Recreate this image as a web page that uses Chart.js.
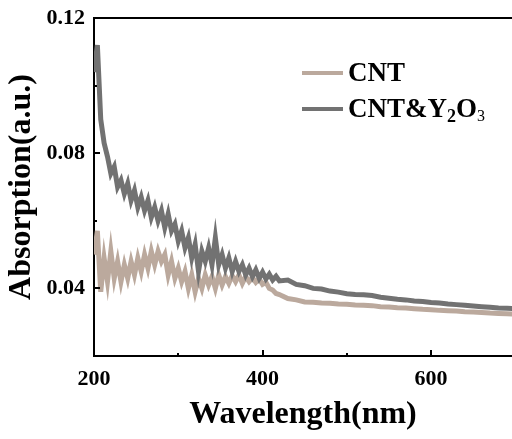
<!DOCTYPE html>
<html>
<head>
<meta charset="utf-8">
<script src="https://cdn.jsdelivr.net/npm/chart.js@4.4.0/dist/chart.umd.min.js"></script>
<style>
  html, body { margin: 0; padding: 0; background: #fff; }
  #c { display: block; }
</style>
</head>
<body>
<canvas id="c" width="512" height="439"></canvas>
<script>
// wavelength (nm)
const wavelengths = [
  200, 204, 208, 212, 216, 220, 224, 228, 232, 236, 240, 244, 248, 252, 256, 260,
  264, 268, 272, 276, 280, 284, 288, 292, 296, 300, 304, 308, 312, 316, 320, 324,
  328, 332, 336, 340, 344, 348, 352, 356, 360, 364, 368, 372, 376, 380, 384, 388,
  392, 396, 400, 404, 408, 412, 416, 420,
  430, 440, 450, 460, 470, 480, 490, 500, 510, 520, 530, 540, 550, 560, 570, 580,
  590, 600, 610, 620, 630, 640, 650, 660, 670, 680, 690, 700
];

const cntValues = [
  0.0500, 0.0570, 0.0390, 0.0490, 0.0420, 0.0510, 0.0430, 0.0480, 0.0420, 0.0470, 0.0430, 0.0480, 0.0440, 0.0490, 0.0450, 0.0500,
  0.0460, 0.0510, 0.0470, 0.0510, 0.0480, 0.0500, 0.0440, 0.0480, 0.0430, 0.0460, 0.0420, 0.0450, 0.0400, 0.0440, 0.0390, 0.0430,
  0.0400, 0.0440, 0.0410, 0.0435, 0.0400, 0.0440, 0.0410, 0.0435, 0.0415, 0.0438, 0.0420, 0.0440, 0.0415, 0.0435, 0.0420, 0.0432,
  0.0418, 0.0428, 0.0412, 0.0418, 0.0400, 0.0395, 0.0385, 0.0382,
  0.0370, 0.0366, 0.0360, 0.0359, 0.0357, 0.0356, 0.0354, 0.0353, 0.0351, 0.0350, 0.0349, 0.0346, 0.0345, 0.0343, 0.0342, 0.0340,
  0.0338, 0.0337, 0.0335, 0.0334, 0.0333, 0.0331, 0.0330, 0.0329, 0.0327, 0.0326, 0.0325, 0.0324
];

const cntY2O3Values = [
  0.1040, 0.1120, 0.0900, 0.0830, 0.0790, 0.0740, 0.0760, 0.0700, 0.0720, 0.0680, 0.0710, 0.0660, 0.0690, 0.0640, 0.0670, 0.0630,
  0.0660, 0.0610, 0.0640, 0.0600, 0.0630, 0.0580, 0.0620, 0.0570, 0.0590, 0.0540, 0.0570, 0.0520, 0.0550, 0.0490, 0.0530, 0.0450,
  0.0510, 0.0480, 0.0520, 0.0470, 0.0550, 0.0470, 0.0500, 0.0460, 0.0490, 0.0450, 0.0480, 0.0450, 0.0470, 0.0440, 0.0460, 0.0435,
  0.0455, 0.0430, 0.0448, 0.0428, 0.0442, 0.0425, 0.0436, 0.0422,
  0.0425, 0.0412, 0.0408, 0.0400, 0.0398, 0.0392, 0.0389, 0.0384, 0.0382, 0.0381, 0.0379, 0.0374, 0.0371, 0.0368, 0.0366, 0.0363,
  0.0361, 0.0358, 0.0357, 0.0354, 0.0352, 0.0350, 0.0348, 0.0346, 0.0344, 0.0342, 0.0341, 0.0340
];

const xTicks = [200, 300, 400, 500, 600];
const xLabelled = [200, 400, 600];
const yTicks = [0.04, 0.06, 0.08, 0.10, 0.12];
const yLabelled = [0.04, 0.08, 0.12];

const seriesNames = ['CNT', 'CNT&Y2O3'];
const seriesColors = ['#bba99d', '#727272'];

const SERIF = '"Liberation Serif", "Times New Roman", serif';

function toPoints(ys) {
    return wavelengths.map((w, i) => ({ x: w, y: ys[i] }));
}

// 外框上緣、朝內的刻度、圖例（有下標，所以自己畫）
const framePlugin = {
    id: 'frame',
    afterDraw(chart) {
        const ctx = chart.ctx;
        const area = chart.chartArea;
        const xs = chart.scales.x;
        const ys = chart.scales.y;
        ctx.save();
        ctx.strokeStyle = '#000';
        ctx.lineWidth = 2;
        ctx.beginPath();
        ctx.moveTo(area.left - 1, area.top);
        ctx.lineTo(area.right, area.top);
        ctx.stroke();

        xTicks.forEach(v => {
            const px = Math.round(xs.getPixelForValue(v));
            const len = xLabelled.includes(v) ? 6 : 3;
            ctx.beginPath();
            ctx.moveTo(px, area.bottom);
            ctx.lineTo(px, area.bottom - len);
            ctx.stroke();
        });
        yTicks.forEach(v => {
            const py = Math.round(ys.getPixelForValue(v));
            const len = yLabelled.some(l => Math.abs(l - v) < 1e-9) ? 6 : 3;
            ctx.beginPath();
            ctx.moveTo(area.left, py);
            ctx.lineTo(area.left + len, py);
            ctx.stroke();
        });

        // legend
        const lx = 302, lw = 41;
        const rows = [73, 109];
        ctx.lineWidth = 4;
        rows.forEach((ry, i) => {
            ctx.strokeStyle = seriesColors[i];
            ctx.beginPath();
            ctx.moveTo(lx, ry);
            ctx.lineTo(lx + lw, ry);
            ctx.stroke();
        });
        ctx.fillStyle = '#000';
        ctx.textBaseline = 'alphabetic';
        ctx.textAlign = 'left';
        const big = 'bold 27px ' + SERIF;
        const sub = 'bold 18px ' + SERIF;
        const sub3 = '16px ' + SERIF;
        let tx = 348;
        ctx.font = big;
        ctx.fillText('CNT', tx, 81);
        let by = 117;
        ctx.fillText('CNT&Y', tx, by);
        tx += ctx.measureText('CNT&Y').width;
        ctx.font = sub;
        ctx.fillText('2', tx, by + 5);
        tx += ctx.measureText('2').width;
        ctx.font = big;
        ctx.fillText('O', tx, by);
        tx += ctx.measureText('O').width;
        ctx.font = sub3;
        ctx.fillText('3', tx, by + 4);
        ctx.restore();
    }
};

const chart = new Chart(document.getElementById('c').getContext('2d'), {
    type: 'line',
    data: {
        datasets: [
            {
                label: seriesNames[0],
                data: toPoints(cntValues),
                borderColor: seriesColors[0],
                borderWidth: 5,
                pointRadius: 0,
                tension: 0,
                order: 1
            },
            {
                label: seriesNames[1],
                data: toPoints(cntY2O3Values),
                borderColor: seriesColors[1],
                borderWidth: 5,
                pointRadius: 0,
                tension: 0,
                order: 0
            }
        ]
    },
    options: {
        responsive: false,
        devicePixelRatio: 1,
        animation: false,
        layout: { padding: { top: 18, right: 0, left: 0, bottom: 0 } },
        plugins: {
            legend: { display: false },
            tooltip: { enabled: false }
        },
        scales: {
            x: {
                type: 'linear',
                min: 200,
                max: 696,
                afterBuildTicks: s => { s.ticks = xTicks.map(v => ({ value: v })); },
                afterFit: s => { s.height = 83; s.paddingLeft = 0; s.paddingRight = 0; },
                grid: { display: false, drawTicks: false },
                border: { display: true, color: '#000', width: 2 },
                ticks: {
                    padding: 10,
                    color: '#000',
                    font: { family: SERIF, size: 22, weight: 'bold' },
                    callback: v => xLabelled.includes(v) ? String(v) : ''
                },
                title: {
                    display: true,
                    text: 'Wavelength(nm)',
                    color: '#000',
                    font: { family: SERIF, size: 32, weight: 'bold' },
                    padding: { top: 0, bottom: 5 }
                }
            },
            y: {
                type: 'linear',
                min: 0.02,
                max: 0.12,
                afterBuildTicks: s => { s.ticks = yTicks.map(v => ({ value: v })); },
                afterFit: s => { s.width = 94; s.paddingTop = 0; s.paddingBottom = 0; },
                grid: { display: false, drawTicks: false },
                border: { display: true, color: '#000', width: 2 },
                ticks: {
                    padding: 9,
                    color: '#000',
                    font: { family: SERIF, size: 22, weight: 'bold' },
                    callback: v => yLabelled.some(l => Math.abs(l - v) < 1e-9) ? v.toFixed(2) : ''
                },
                title: {
                    display: true,
                    text: 'Absorption(a.u.)',
                    color: '#000',
                    font: { family: SERIF, size: 32, weight: 'bold' },
                    padding: { top: 3, bottom: 0 }
                }
            }
        }
    },
    plugins: [framePlugin]
});
</script>
</body>
</html>
